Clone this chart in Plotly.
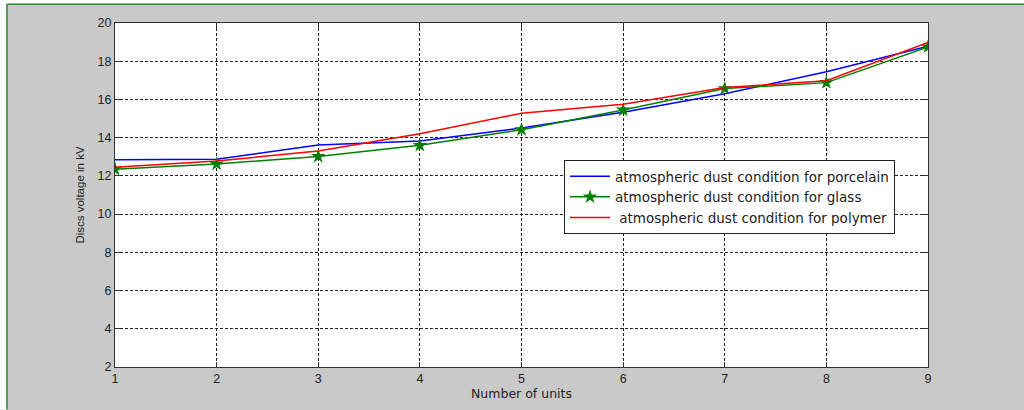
import plotly.graph_objects as go

units = [1, 2, 3, 4, 5, 6, 7, 8, 9]
porcelain = [12.85, 12.87, 13.62, 13.82, 14.5, 15.33, 16.3, 17.45, 18.78]
glass = [12.35, 12.62, 13.02, 13.6, 14.42, 15.45, 16.57, 16.88, 18.75]
polymer = [12.45, 12.78, 13.3, 14.2, 15.28, 15.75, 16.62, 16.98, 18.98]

names = ["atmospheric dust condition for porcelain",
         "atmospheric dust condition for glass",
         " atmospheric dust condition for polymer"]
x_ticks = [1, 2, 3, 4, 5, 6, 7, 8, 9]
y_ticks = [2, 4, 6, 8, 10, 12, 14, 16, 18, 20]

fig = go.Figure()
fig.add_trace(go.Scatter(x=units, y=porcelain, mode="lines", name=names[0],
                         line=dict(color="#0000ff", width=1.5)))
fig.add_trace(go.Scatter(x=units, y=glass, mode="lines+markers", name=names[1],
                         line=dict(color="#008000", width=1.5),
                         marker=dict(symbol="star", size=11, color="#008000")))
fig.add_trace(go.Scatter(x=units, y=polymer, mode="lines", name=names[2],
                         line=dict(color="#ff0000", width=1.5)))

L, R, T, B = 115, 96, 23, 38
W, H = 1024, 410
pw, ph = W - L - R, H - T - B

def px_x(px):
    return (px - L) / pw

def px_y(py):
    return (H - B - py) / ph

TXT = "#222222"
axis_common = dict(
    showline=True, linecolor="#333333", linewidth=1, mirror="ticks",
    ticks="inside", ticklen=5, tickcolor="#333333",
    showgrid=True, gridcolor="#222222", gridwidth=1, griddash="3px,2px",
    zeroline=False, tickfont=dict(family="Liberation Sans, Arial", size=12.5, color=TXT),
)

fig.update_xaxes(range=[1, 9], tickvals=x_ticks, **axis_common,
                 title=dict(text="Number of units", standoff=3,
                            font=dict(family="DejaVu Sans", size=12.5, color=TXT)))
fig.update_yaxes(range=[2, 20], tickvals=y_ticks, **axis_common,
                 title=dict(text="Discs voltage in kV", standoff=10,
                            font=dict(family="Liberation Sans, Arial", size=11.5, color=TXT)))

fig.update_layout(
    width=W, height=H,
    margin=dict(l=L, r=R, t=T, b=B, pad=0),
    paper_bgcolor="#c9c9c9", plot_bgcolor="white",
    font=dict(family="Liberation Sans, Arial", size=11, color=TXT),
    legend=dict(x=px_x(564), y=px_y(162), xanchor="left", yanchor="top",
                bgcolor="white", bordercolor="#222222", borderwidth=1,
                font=dict(family="DejaVu Sans", size=13.5, color=TXT),
                tracegroupgap=0, itemwidth=40),
    shapes=[
        dict(type="rect", xref="paper", yref="paper", x0=px_x(-2), x1=px_x(6.5),
             y0=px_y(415), y1=px_y(-5), fillcolor="white", line=dict(width=0), layer="below"),
        dict(type="rect", xref="paper", yref="paper", x0=px_x(-2), x1=px_x(1030),
             y0=px_y(3.5), y1=px_y(-5), fillcolor="white", line=dict(width=0), layer="below"),
        dict(type="line", xref="paper", yref="paper", x0=px_x(7), x1=px_x(7),
             y0=px_y(415), y1=px_y(4), line=dict(color="#2e8b2e", width=1.5)),
        dict(type="line", xref="paper", yref="paper", x0=px_x(7), x1=px_x(1030),
             y0=px_y(4), y1=px_y(4), line=dict(color="#2e8b2e", width=1.5)),
    ],
)

fig.write_html("out.html", config={"displayModeBar": False},
               post_script="document.body.style.margin='0';document.body.style.overflow='hidden';")
